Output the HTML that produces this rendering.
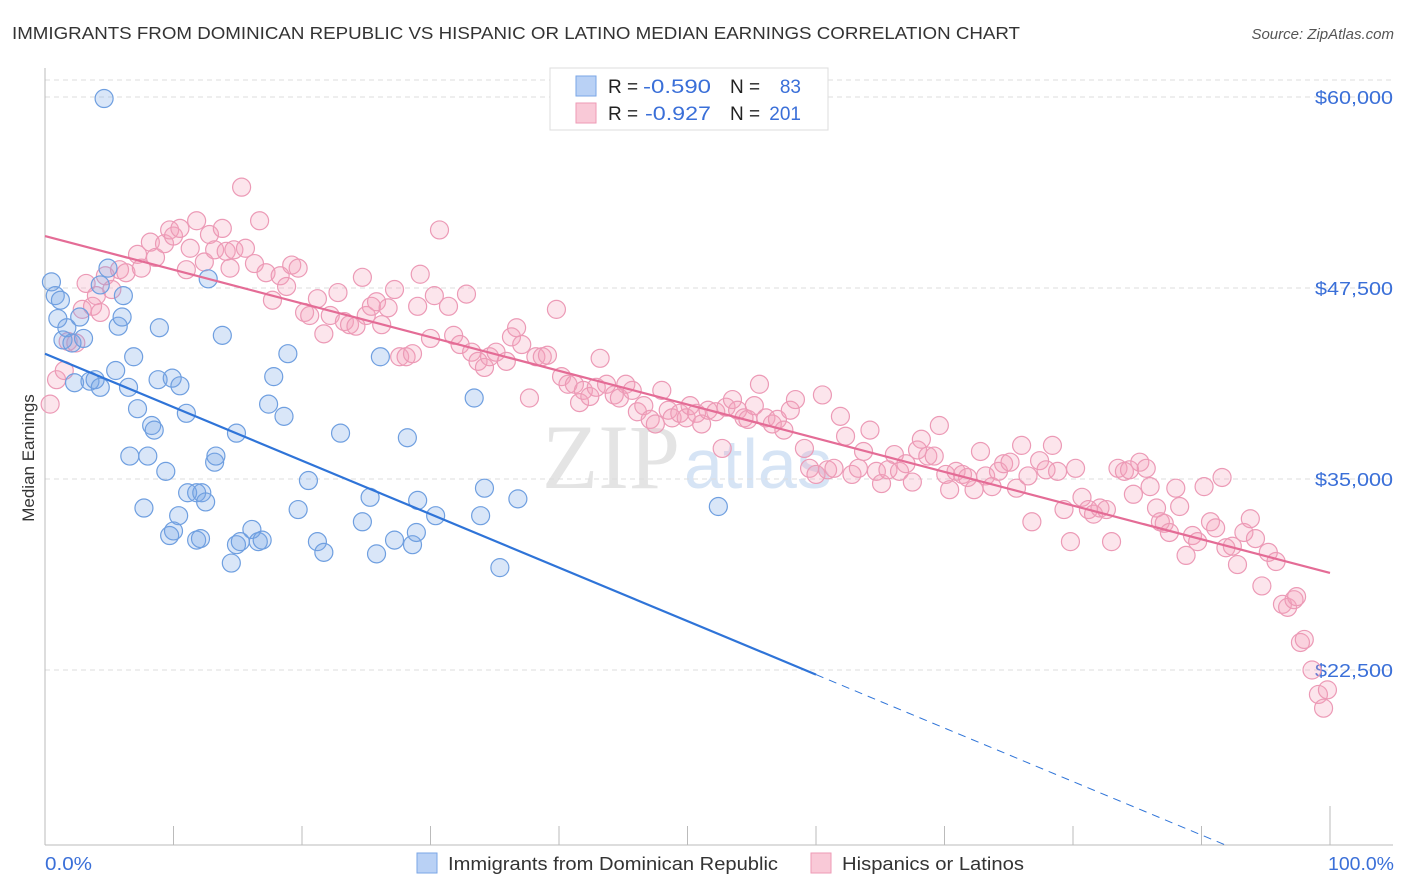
<!DOCTYPE html>
<html><head><meta charset="utf-8"><style>
body{margin:0;background:#fff;font-family:"Liberation Sans",sans-serif;}
svg{display:block}
</style></head><body>
<svg id="chart" width="1406" height="892">
<text x="12" y="39" font-size="17.5" fill="#333" textLength="1008" lengthAdjust="spacingAndGlyphs">IMMIGRANTS FROM DOMINICAN REPUBLIC VS HISPANIC OR LATINO MEDIAN EARNINGS CORRELATION CHART</text>
<text x="1394" y="39" font-size="15" fill="#555" font-style="italic" text-anchor="end">Source: ZipAtlas.com</text>
<text x="680" y="488" font-size="92" fill="#e4e4e4" font-family="Liberation Serif,serif" text-anchor="end">ZIP</text>
<text x="684" y="488" font-size="70" fill="#d6e4f5" text-anchor="start">atlas</text>
<g id="grid"></g><g id="axes"></g>
<g id="pink"></g><g id="blue"></g><g id="lines"></g>
<text x="34" y="458" font-size="17" fill="#333" text-anchor="middle" transform="rotate(-90 34 458)">Median Earnings</text>
<text x="45" y="870" font-size="18" fill="#3a6fd8" textLength="47" lengthAdjust="spacingAndGlyphs">0.0%</text>
<text x="1328" y="870" font-size="18" fill="#3a6fd8" textLength="66" lengthAdjust="spacingAndGlyphs">100.0%</text>
<g>
<rect x="550" y="68" width="278" height="62" fill="#fff" stroke="#ddd"/>
<rect x="576" y="76" width="20" height="20" fill="#b9d1f5" stroke="#7aa6e6"/>
<rect x="576" y="103" width="20" height="20" fill="#f9c9d7" stroke="#ee9ab5"/>
<text x="608" y="93" font-size="19" fill="#222">R = </text><text x="643" y="93" font-size="19" fill="#3a6fd8" textLength="68" lengthAdjust="spacingAndGlyphs">-0.590</text>
<text x="730" y="93" font-size="19" fill="#222">N = </text><text x="801" y="93" font-size="19" fill="#3a6fd8" text-anchor="end">83</text>
<text x="608" y="120" font-size="19" fill="#222">R = </text><text x="645" y="120" font-size="19" fill="#3a6fd8" textLength="66" lengthAdjust="spacingAndGlyphs">-0.927</text>
<text x="730" y="120" font-size="19" fill="#222">N = </text><text x="801" y="120" font-size="19" fill="#3a6fd8" text-anchor="end">201</text>
</g>
<g>
<rect x="417" y="853" width="20" height="20" fill="#b9d1f5" stroke="#7aa6e6"/>
<text x="448" y="870" font-size="18" fill="#333" textLength="330" lengthAdjust="spacingAndGlyphs">Immigrants from Dominican Republic</text>
<rect x="811" y="853" width="20" height="20" fill="#f9c9d7" stroke="#ee9ab5"/>
<text x="842" y="870" font-size="18" fill="#333" textLength="182" lengthAdjust="spacingAndGlyphs">Hispanics or Latinos</text>
</g>
</svg>
<script>
const yTicks=[60000,47500,35000,22500];
const yTickLabels=["$60,000","$47,500","$35,000","$22,500"];
const xTicks=[0,10,20,30,40,50,60,70,80,90,100];
const blueX=[4.6,0.5,0.8,1.2,1.0,1.7,1.4,2.1,3.0,2.7,4.3,4.9,6.1,5.7,6.0,6.9,5.5,2.3,3.5,3.9,4.3,6.5,7.2,8.3,8.5,8.9,8.8,9.9,10.5,11.0,12.7,13.8,18.9,17.8,17.4,18.6,6.6,8.0,9.4,7.7,10.4,10.0,9.7,11.1,11.8,12.2,12.5,13.2,13.3,14.9,14.9,14.5,15.2,16.1,16.6,16.9,11.8,12.1,20.5,19.7,21.2,21.7,23.0,24.7,25.3,26.1,25.8,27.2,28.2,29.0,28.6,28.9,30.4,33.4,34.2,33.9,35.4,36.8,52.4];
const blueY=[59.9,47.9,47.0,46.7,45.5,44.9,44.1,43.9,44.2,45.6,47.7,48.8,47.0,45.0,45.6,43.0,42.1,41.3,41.4,41.5,41.0,41.0,39.6,38.5,38.2,44.9,41.5,41.6,41.1,39.3,48.1,44.4,43.2,41.7,39.9,39.1,36.5,36.5,35.5,33.1,32.6,31.6,31.3,34.1,34.1,34.1,33.5,36.1,36.5,38.0,30.7,29.5,30.9,31.7,30.9,31.0,31.0,31.1,34.9,33.0,30.9,30.2,38.0,32.2,33.8,43.0,30.1,31.0,37.7,33.6,30.7,31.5,32.6,40.3,34.4,32.6,29.2,33.7,33.2];
const pinkX=[0.4,0.9,1.5,1.8,2.4,2.9,3.2,3.7,4.0,4.3,4.7,5.2,5.8,6.3,7.2,7.5,8.2,8.6,9.3,9.7,10.0,10.5,11.0,11.3,11.8,12.4,12.8,13.2,13.8,14.1,14.7,14.4,15.3,15.6,16.3,16.7,17.2,17.7,18.3,18.8,19.2,19.7,20.2,20.6,21.2,21.7,22.2,22.8,23.3,23.7,24.2,24.7,25.0,25.4,25.8,26.2,26.7,27.2,27.6,28.1,28.6,29.0,29.2,30.0,30.3,30.7,31.4,31.8,32.3,32.8,33.2,33.7,34.2,34.6,35.1,35.9,36.3,36.7,37.1,37.7,38.2,38.7,39.1,39.8,40.2,40.7,41.2,41.6,41.9,42.4,42.9,43.2,43.7,44.3,44.7,45.2,45.7,46.1,46.6,47.1,47.5,48.0,48.5,48.8,49.4,49.9,50.2,50.7,51.1,51.6,52.2,52.7,53.0,53.5,53.9,54.4,54.7,55.2,55.6,56.1,56.6,57.0,57.5,58.0,58.4,59.1,59.5,60.0,60.5,60.9,61.4,61.9,62.3,62.8,63.3,63.7,64.2,64.7,65.1,65.6,66.1,66.5,67.0,67.5,67.9,68.2,68.7,69.2,69.6,70.1,70.4,70.9,71.4,71.8,72.3,72.8,73.2,73.7,74.2,74.6,75.1,75.6,76.0,76.5,76.8,77.4,77.9,78.4,78.8,79.3,79.8,80.2,80.7,81.2,81.6,82.1,82.6,83.0,83.5,84.0,84.4,84.7,85.2,85.7,86.0,86.5,86.8,87.1,87.5,88.0,88.3,88.8,89.3,89.7,90.2,90.7,91.1,91.6,91.9,92.4,92.8,93.3,93.8,94.2,94.7,95.2,95.8,96.3,96.7,97.2,97.4,97.7,98.0,98.6,99.1,99.5,99.8];
const pinkY=[39.9,41.5,42.1,44.0,43.9,46.1,47.8,46.3,47.0,45.9,48.3,47.4,48.7,48.5,49.7,48.8,50.5,49.5,50.4,51.3,50.9,51.4,48.7,50.1,51.9,49.2,51.0,50.0,51.4,49.9,50.0,48.8,54.1,50.1,49.1,51.9,48.5,46.7,48.3,47.6,49.0,48.8,45.9,45.7,46.8,44.5,45.7,47.2,45.3,45.1,45.0,48.2,45.7,46.3,46.6,45.1,46.2,47.4,43.0,43.0,43.2,46.3,48.4,44.2,47.0,51.3,46.3,44.4,43.8,47.1,43.3,42.7,42.3,43.0,43.3,42.7,44.3,44.9,43.8,40.3,43.0,43.0,43.1,46.1,41.7,41.2,41.2,40.0,40.8,40.4,41.0,42.9,41.2,40.5,40.3,41.2,40.8,39.4,39.8,38.9,38.6,40.8,39.5,39.0,39.3,39.0,39.8,39.3,38.6,39.5,39.4,37.0,39.7,40.2,39.5,39.0,38.9,39.8,41.2,39.0,38.6,38.9,38.2,39.5,40.2,37.0,35.7,35.3,40.5,35.6,35.7,39.1,37.8,35.3,35.7,36.8,38.2,35.5,34.7,35.6,36.6,35.5,36.0,34.8,36.9,37.6,36.5,36.5,38.5,35.3,34.3,35.5,35.3,35.1,34.3,36.8,35.2,34.5,35.5,36.0,36.1,34.4,37.2,35.2,32.2,36.2,35.6,37.2,35.5,33.0,30.9,35.7,33.8,33.0,32.7,33.1,33.0,30.9,35.7,35.5,35.6,34.0,36.1,35.7,34.5,33.1,32.2,32.1,31.5,34.4,33.2,30.0,31.3,30.9,34.5,32.2,31.8,35.1,30.5,30.6,29.4,31.5,32.4,31.1,28.0,30.2,29.6,26.8,26.6,27.1,27.3,24.3,24.5,22.5,20.9,20.0,21.2];
const blueTrend=[43.2,8.2];
const pinkTrend=[50.9,28.85];
const blueSolidEnd=60;

const NS="http://www.w3.org/2000/svg";
const X0=45,X1=1330,Ytop=97,Ybot=670,PB=845;
const sx=p=>X0+(X1-X0)*p/100;
const sy=v=>Ytop+(60000-v)*(Ybot-Ytop)/37500;
function mk(tag,parent,attrs){const e=document.createElementNS(NS,tag);for(const k in attrs)e.setAttribute(k,attrs[k]);document.getElementById(parent).appendChild(e);return e;}
mk('line','grid',{x1:X0,x2:1393,y1:80,y2:80,stroke:'#ddd','stroke-dasharray':'5,4'});
yTicks.forEach((v,i)=>{
 const l=mk('line','grid',{x1:X0,x2:1393,y1:sy(v),y2:sy(v),stroke:'#ddd','stroke-dasharray':'5,4'});
 
 
 const t=mk('text','grid',{x:1393,y:sy(v)+7,'font-size':18,fill:'#3a6fd8','text-anchor':'end',textLength:78,lengthAdjust:'spacingAndGlyphs'});
 t.textContent=yTickLabels[i];
 
 
});
mk('line','axes',{x1:X0,x2:X0,y1:68,y2:PB,stroke:'#bbb'});
mk('line','axes',{x1:X0,x2:1393,y1:PB,y2:PB,stroke:'#bbb'});
xTicks.forEach(p=>{
 const t=mk('line','axes',{x1:sx(p),x2:sx(p),y1:p==100?806:826,y2:PB,stroke:'#bbb'});
 
 
});
pinkX.forEach((x,i)=>{
 const c=mk('circle','pink',{cx:sx(x),cy:sy(pinkY[i]*1000),r:9,fill:'rgba(244,160,188,0.28)',stroke:'#ec9ab6','stroke-width':1.2});
 
 
});
blueX.forEach((x,i)=>{
 const c=mk('circle','blue',{cx:sx(x),cy:sy(blueY[i]*1000),r:9,fill:'rgba(120,165,230,0.28)',stroke:'#6f9fe0','stroke-width':1.2});
 
 
});
const bAt=p=>(blueTrend[0]+(blueTrend[1]-blueTrend[0])*p/100)*1000;
const pAt=p=>(pinkTrend[0]+(pinkTrend[1]-pinkTrend[0])*p/100)*1000;
let pl=mk('line','lines',{x1:sx(0),y1:sy(pAt(0)),x2:sx(100),y2:sy(pAt(100)),stroke:'#e46c96','stroke-width':2.2});


let bl=mk('line','lines',{x1:sx(0),y1:sy(bAt(0)),x2:sx(blueSolidEnd),y2:sy(bAt(blueSolidEnd)),stroke:'#2f74d8','stroke-width':2.2});


const bottomVal=60000-(PB-Ytop)*37500/(Ybot-Ytop);
const pEnd=Math.min(100,(bottomVal/1000-blueTrend[0])/(blueTrend[1]-blueTrend[0])*100);
let bd=mk('line','lines',{x1:sx(blueSolidEnd),y1:sy(bAt(blueSolidEnd)),x2:sx(pEnd),y2:sy(bAt(pEnd)),stroke:'#2f74d8','stroke-width':1,'stroke-dasharray':'8,6'});


</script>
</body></html>
